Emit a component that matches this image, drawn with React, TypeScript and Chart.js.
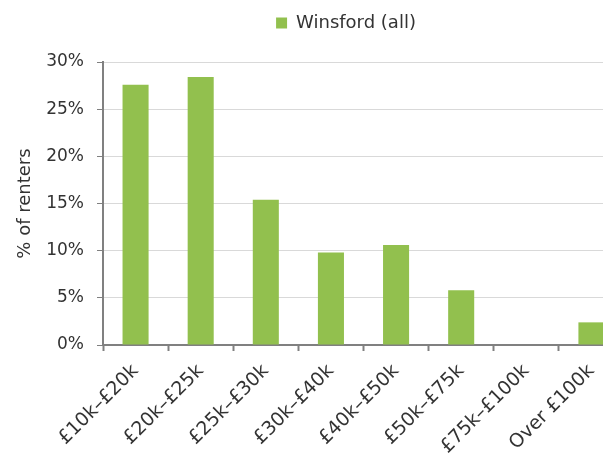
import React, { useEffect, useRef } from 'react';
import { Chart, registerables } from 'chart.js';

Chart.register(...registerables);

const categories = ['£10k–£20k', '£20k–£25k', '£25k–£30k', '£30k–£40k', '£40k–£50k', '£50k–£75k', '£75k–£100k', 'Over £100k'];
const winsfordAll = [27.6, 28.4, 15.4, 9.8, 10.6, 5.8, 0, 2.4];
const seriesLabel = 'Winsford (all)';
const yAxisTitle = '% of renters';
const yMin = 0;
const yMax = 30;
const yStep = 5;

const CANVAS_W = 692;
const CANVAS_H = 459;
const FONT = "'DejaVu Sans', sans-serif";
const TEXT = '#333333';
const AXIS = '#808080';

const legendGap = {
  id: 'legendGap',
  beforeInit(chart: any) {
    const legend = chart.legend;
    if (!legend) return;
    const fit = legend.fit;
    legend.fit = function () {
      fit.call(this);
      this.height += 20;
    };
  },
};

export default function App() {
  const ref = useRef<HTMLCanvasElement | null>(null);

  useEffect(() => {
    if (!ref.current) return;
    const chart = new Chart(ref.current, {
      type: 'bar',
      data: {
        labels: categories,
        datasets: [
          {
            label: seriesLabel,
            data: winsfordAll,
            backgroundColor: '#92c04e',
            borderWidth: 0,
            barPercentage: 0.4,
            categoryPercentage: 1,
          },
        ],
      },
      plugins: [legendGap],
      options: {
        responsive: false,
        animation: false,
        devicePixelRatio: 1,
        layout: { padding: 0 },
        plugins: {
          legend: {
            position: 'top',
            labels: {
              boxWidth: 11,
              boxHeight: 11,
              padding: 14,
              color: TEXT,
              font: { family: FONT, size: 18 },
            },
          },
          tooltip: { enabled: false },
        },
        scales: {
          x: {
            afterFit: (s: any) => {
              s.height = 114;
            },
            ticks: {
              autoSkip: false,
              minRotation: 45,
              maxRotation: 45,
              padding: 9,
              color: TEXT,
              font: { family: FONT, size: 19 },
            },
            grid: {
              drawOnChartArea: false,
              drawTicks: true,
              tickLength: 6,
              tickColor: AXIS,
              tickWidth: 2,
              offset: true,
            },
            border: { color: AXIS, width: 2 },
          },
          y: {
            min: yMin,
            max: yMax,
            afterFit: (s: any) => {
              s.width = 103;
            },
            ticks: {
              stepSize: yStep,
              callback: (v: any) => v + '%',
              padding: 13,
              color: TEXT,
              font: { family: FONT, size: 17 },
            },
            grid: {
              color: '#d9d9d9',
              tickColor: AXIS,
              tickLength: 6,
            },
            border: { color: AXIS, width: 2 },
            title: {
              display: true,
              text: yAxisTitle,
              color: TEXT,
              font: { family: FONT, size: 18 },
              padding: { top: 15, bottom: 0 },
            },
          },
          yRight: {
            position: 'right',
            afterFit: (s: any) => {
              s.width = CANVAS_W - 624;
            },
            grid: { display: false, drawTicks: false },
            ticks: { display: false },
            border: { display: false },
          },
        },
      },
    } as any);
    return () => chart.destroy();
  }, []);

  return (
    <div style={{ position: 'fixed', left: 0, top: 0, width: 603, height: 459, overflow: 'hidden', background: '#fff' }}>
      <canvas ref={ref} width={CANVAS_W} height={CANVAS_H} style={{ display: 'block', width: CANVAS_W, height: CANVAS_H }} />
    </div>
  );
}
